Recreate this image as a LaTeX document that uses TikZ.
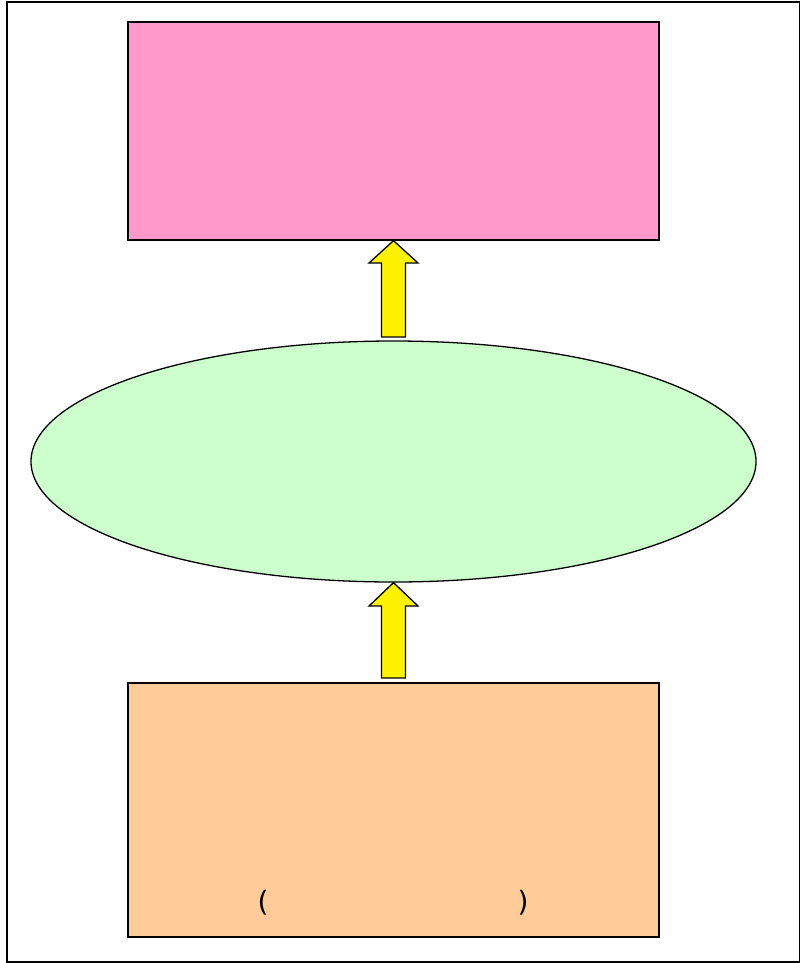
\documentclass[tikz,border=0pt]{standalone}
\usepackage{fontspec}
\setmainfont{DejaVu Sans}
\usetikzlibrary{shapes.geometric}
\definecolor{pinkbox}{HTML}{FF99CC}
\definecolor{greenell}{HTML}{CCFFCC}
\definecolor{orangebox}{HTML}{FFCC99}
\begin{document}
\begin{tikzpicture}[x=1pt,y=-1pt,
  boxstyle/.style={draw=black,line width=1.3pt,inner sep=0pt},
  blockarrow/.style={draw=black,fill=yellow,line width=1.3pt,line join=miter},
  paren/.style={font=\fontsize{28}{32}\selectfont,inner sep=0pt}]
\useasboundingbox (0,0) rectangle (800,963);
\draw[line width=1.3pt] (7,2) rectangle (799.5,962);
\node[boxstyle,fill=pinkbox,minimum width=531pt,minimum height=218pt] (top) at (393.5,131) {};
\node[boxstyle,fill=greenell,ellipse,minimum width=725pt,minimum height=241pt] (mid) at (393.5,461.5) {};
\node[boxstyle,fill=orangebox,minimum width=531pt,minimum height=254pt] (bot) at (393.5,810) {};
\node[paren] (lp) at (263,903) {(};
\node[paren] (rp) at (523,903) {)};
% arrow from ellipse to top box
\draw[blockarrow] (top.south) -- (418,263) -- (405.5,263) -- (405.5,337) -- (381.5,337) -- (381.5,263) -- (369,263) -- cycle;
% arrow from bottom box to ellipse
\draw[blockarrow] (mid.south) -- (418,606) -- (405.5,606) -- (405.5,678) -- (381.5,678) -- (381.5,606) -- (369,606) -- cycle;
\end{tikzpicture}
\end{document}
